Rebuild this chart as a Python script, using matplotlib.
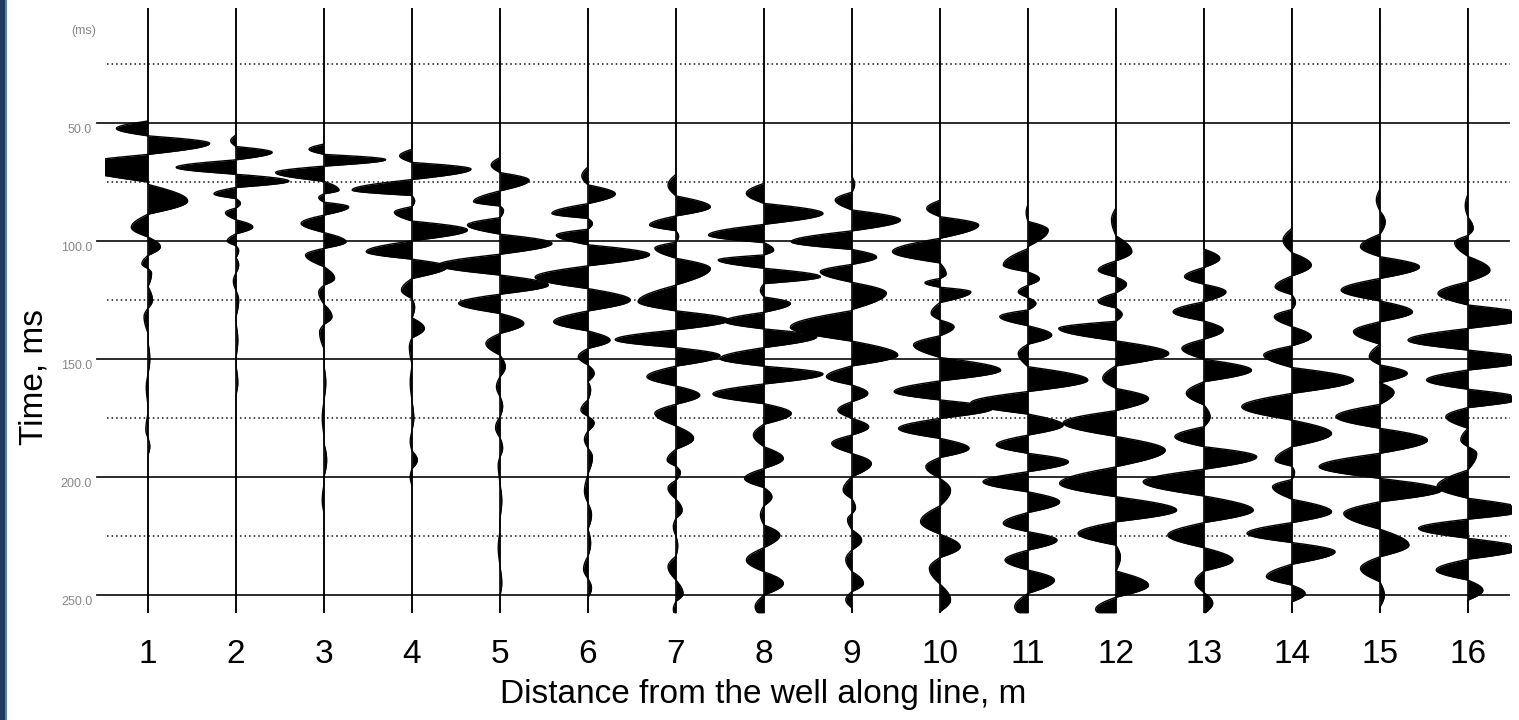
import numpy as np
import matplotlib
matplotlib.use("Agg")
import matplotlib.pyplot as plt
from matplotlib.patches import Rectangle

# peak picks per receiver: time (ms) and amplitude (in trace spacings, + to the right)
t01 = [52.3, 58.6, 68.0, 83.0, 94.2, 102.4, 109.7, 113.6, 125.0, 132.0, 150.0, 162.0, 180.0, 187.0]
a01 = [-0.36, 0.70, -0.85, 0.45, -0.19, 0.14, -0.07, 0.04, 0.05, -0.045, 0.02, -0.02, -0.025, 0.02]

t02 = [57.5, 62.4, 68.8, 74.6, 80.0, 84.0, 88.0, 94.0, 99.9, 104.0, 110.0, 117.0, 125.0, 142.0, 160.0]
a02 = [-0.06, 0.41, -0.68, 0.60, -0.25, 0.05, -0.12, 0.19, -0.10, 0.03, 0.03, -0.03, 0.03, 0.02, 0.02]

t03 = [61.1, 65.5, 71.0, 78.4, 81.6, 85.5, 92.5, 100.3, 105.9, 115.8, 121.6, 132.0, 138.6, 160.0, 175.0, 192.8, 210.0]
a03 = [-0.17, 0.70, -0.55, 0.17, -0.06, 0.28, -0.26, 0.25, -0.21, 0.12, -0.06, 0.09, -0.05, 0.02, -0.02, 0.03, -0.02]

t04 = [63.9, 69.5, 78.4, 83.0, 87.8, 95.3, 104.5, 110.9, 120.8, 128.0, 137.0, 145.0, 160.0, 175.0, 185.0, 192.8, 200.0]
a04 = [-0.14, 0.67, -0.68, 0.03, -0.20, 0.63, -0.52, 0.40, -0.12, 0.03, 0.14, -0.03, -0.02, 0.02, -0.02, 0.06, -0.02]

t05 = [67.8, 74.2, 83.3, 87.0, 93.2, 101.0, 110.2, 118.6, 126.4, 134.9, 143.4, 153.3, 161.7, 170.0,
       179.0, 187.7, 195.0, 210.0, 230.0, 245.0]
a05 = [-0.10, 0.33, -0.30, 0.04, -0.37, 0.59, -0.70, 0.55, -0.47, 0.27, -0.16, 0.06, -0.04, 0.03,
       -0.05, 0.03, -0.02, 0.02, -0.02, 0.02]

t06 = [72.4, 80.0, 88.3, 92.5, 97.5, 105.7, 115.3, 125.0, 134.2, 142.0, 149.0, 156.0, 163.0, 171.6,
       177.0, 184.0, 191.5, 206.0, 216.0, 228.0, 239.0, 247.0]
a06 = [-0.07, 0.31, -0.41, 0.05, -0.36, 0.70, -0.60, 0.48, -0.39, 0.25, -0.11, 0.07, 0.03, -0.08,
       0.07, -0.04, 0.05, -0.04, 0.04, 0.03, -0.05, 0.04]

t07 = [76.3, 85.5, 93.2, 98.0, 103.0, 111.6, 125.7, 133.5, 141.8, 148.5, 157.5, 165.3, 173.0, 183.6,
       192.8, 198.0, 204.7, 214.0, 221.0, 229.0, 238.0, 249.3, 256.0]
a07 = [-0.09, 0.39, -0.30, 0.03, -0.24, 0.39, -0.43, 0.60, -0.69, 0.50, -0.33, 0.27, -0.24, 0.20,
       -0.10, 0.05, -0.09, 0.07, -0.03, 0.02, -0.09, 0.08, -0.03]

t08 = [79.8, 88.3, 97.5, 103.8, 108.0, 115.1, 121.0, 126.4, 134.0, 140.5, 149.8, 156.3, 164.8, 173.0,
       182.2, 192.1, 200.6, 208.3, 216.0, 224.6, 235.2, 245.0, 255.0]
a08 = [-0.20, 0.67, -0.63, 0.11, -0.52, 0.64, -0.04, 0.30, -0.45, 0.60, -0.50, 0.67, -0.58, 0.31,
       -0.12, 0.22, -0.22, 0.09, -0.04, 0.18, -0.20, 0.22, -0.10]

t09 = [76.0, 82.6, 91.1, 100.3, 106.8, 113.0, 122.0, 136.5, 148.3, 157.5, 164.5, 171.6, 178.7, 185.7,
       194.2, 205.5, 213.0, 218.0, 226.7, 235.0, 245.0, 252.0]
a09 = [0.03, -0.19, 0.55, -0.69, 0.28, -0.36, 0.39, -0.70, 0.52, -0.29, 0.18, -0.16, 0.19, -0.23,
       0.22, -0.10, 0.04, -0.05, 0.11, -0.07, 0.13, -0.07]

t10 = [86.2, 93.2, 104.5, 114.0, 117.7, 121.5, 130.6, 136.3, 144.0, 154.7, 163.8, 170.9, 179.4, 187.8,
       195.6, 205.5, 218.9, 229.5, 238.7, 252.0]
a10 = [-0.15, 0.44, -0.54, 0.07, -0.17, 0.35, -0.10, 0.16, -0.30, 0.69, -0.52, 0.60, -0.47, 0.33,
       -0.16, 0.12, -0.22, 0.23, -0.12, 0.12]

t11 = [88.0, 95.3, 110.2, 116.0, 121.5, 126.4, 132.0, 139.8, 147.6, 158.9, 168.6, 178.0, 186.4, 193.5,
       202.0, 210.5, 219.6, 226.7, 235.2, 243.6, 255.0]
a11 = [-0.02, 0.23, -0.28, 0.13, -0.11, 0.09, -0.32, 0.27, -0.11, 0.68, -0.65, 0.40, -0.36, 0.46,
       -0.51, 0.36, -0.28, 0.33, -0.26, 0.30, -0.15]

t12 = [91.0, 104.5, 112.3, 118.2, 125.7, 131.0, 137.0, 147.6, 158.2, 166.7, 177.0, 188.6, 202.7, 214.0,
       223.9, 233.8, 245.8, 256.0]
a12 = [-0.05, 0.18, -0.20, 0.12, -0.20, 0.07, -0.65, 0.60, -0.15, 0.37, -0.60, 0.56, -0.64, 0.69,
       -0.43, 0.05, 0.37, -0.23]

t13 = [107.3, 115.1, 121.5, 130.0, 137.7, 145.5, 154.7, 164.5, 174.4, 182.9, 191.4, 202.0, 214.0, 224.6,
       235.2, 244.4, 253.4]
a13 = [0.18, -0.22, 0.25, -0.35, 0.22, -0.25, 0.54, -0.20, 0.07, -0.33, 0.60, -0.69, 0.56, -0.41,
       0.33, -0.10, 0.10]

t14 = [99.6, 110.2, 119.4, 126.0, 132.0, 140.5, 148.3, 158.9, 170.2, 181.5, 192.8, 198.0, 204.1, 214.7,
       223.9, 231.6, 242.2, 249.3]
a14 = [-0.10, 0.22, -0.19, 0.04, -0.20, 0.22, -0.32, 0.70, -0.57, 0.45, -0.19, 0.03, -0.22, 0.45,
       -0.51, 0.49, -0.29, 0.15]

t15 = [82.6, 91.8, 102.4, 110.9, 120.8, 130.0, 138.4, 149.0, 156.0, 164.0, 174.4, 184.3, 195.6, 205.5,
       215.4, 228.8, 238.7, 250.0]
a15 = [-0.04, 0.06, -0.22, 0.45, -0.44, 0.37, -0.30, -0.12, 0.31, 0.16, -0.50, 0.54, -0.69, 0.70,
       -0.41, 0.33, -0.22, 0.05]

t16 = [85.0, 94.6, 100.7, 112.3, 122.2, 132.0, 142.0, 150.4, 158.9, 166.7, 174.4, 184.3, 190.0, 204.0,
       214.0, 221.7, 230.2, 239.4, 247.9]
a16 = [-0.03, 0.06, -0.15, 0.25, -0.34, 0.75, -0.68, 0.70, -0.47, 0.60, -0.25, -0.08, 0.10, -0.35,
       0.65, -0.56, 0.60, -0.36, 0.17]

traces = [(t01, a01), (t02, a02), (t03, a03), (t04, a04), (t05, a05), (t06, a06), (t07, a07), (t08, a08),
          (t09, a09), (t10, a10), (t11, a11), (t12, a12), (t13, a13), (t14, a14), (t15, a15), (t16, a16)]
offsets = list(range(1, 17))

solid_times = [50, 100, 150, 200, 250]
dotted_times = [25, 75, 125, 175, 225]
time_labels = ["50.0", "100.0", "150.0", "200.0", "250.0"]


def wiggle(times, amps, grid, max_hw=7.0):
    """Build a trace from its picked lobes: each lobe runs from zero to its peak and back."""
    x = np.zeros_like(grid)
    n = len(times)
    for k in range(n):
        tk, ak = times[k], amps[k]
        left = (times[k - 1] + tk) / 2 if k > 0 else None
        right = (tk + times[k + 1]) / 2 if k < n - 1 else None
        if left is None:
            left = tk - min(right - tk, 5.0)
        if right is None:
            right = tk + min(tk - left, 5.0)
        left = max(left, tk - max_hw)
        right = min(right, tk + max_hw)
        m = (grid >= left) & (grid <= right)
        g = grid[m]
        s = np.where(g < tk, (g - left) / (tk - left), (right - g) / (right - tk))
        x[m] += ak * np.sin(np.pi * np.clip(s, 0, 1) / 2)
    return x


plt.rcParams['font.family'] = ['Liberation Sans', 'DejaVu Sans']

fig = plt.figure(figsize=(15.19, 7.2), dpi=100)
fig.patch.set_facecolor('white')

# strip of the slide background on the left edge
fig.add_artist(Rectangle((0, 0), 5 / 1519, 1, transform=fig.transFigure, color='#22385a', lw=0))
fig.add_artist(Rectangle((5 / 1519, 0), 2 / 1519, 1, transform=fig.transFigure, color='#4f7fcf', lw=0))

ax = fig.add_axes([105 / 1519, 1 - 613 / 720, (1511 - 105) / 1519, (613 - 8) / 720])
ax.set_xlim(0.511, 16.49)
ax.set_ylim(257.6, 1.27)
ax.axis('off')

for t in solid_times:
    ax.plot([0.42, 16.47], [t, t], color='#1a1a1a', lw=1.3, clip_on=False, zorder=1)
for t in dotted_times:
    ax.plot([0.534, 16.48], [t, t], color='#111111', lw=1.1, ls=(0, (1, 2)), clip_on=False, zorder=1)

for t, lab in zip(solid_times, time_labels):
    ax.text(0.364, t + 0.4, lab, ha='right', va='top', fontsize=9, color='#888888', clip_on=False)
ax.text(0.409, 11, "(ms)", ha='right', va='center', fontsize=9, color='#888888', clip_on=False)

grid = np.arange(1.27, 257.6, 0.05)
for off, (tt, aa) in zip(offsets, traces):
    x = wiggle(tt, aa, grid)
    ax.fill_betweenx(grid, off, off + x, color='black', lw=0, zorder=2)
    ax.plot(off + x, grid, color='black', lw=1.0, zorder=3)
    ax.plot([off, off], [1.27, 257.6], color='black', lw=1.2, zorder=3)
    ax.text(off, 275.0, str(off), ha='center', va='center', fontsize=24, clip_on=False)

fig.text(763 / 1519, 1 - 694 / 720, "Distance from the well along line, m", ha='center', va='center', fontsize=24)
fig.text(34 / 1519, 1 - 377 / 720, "Time, ms", ha='center', va='center', rotation=90, fontsize=24)

fig.savefig("out.png", dpi=100)
